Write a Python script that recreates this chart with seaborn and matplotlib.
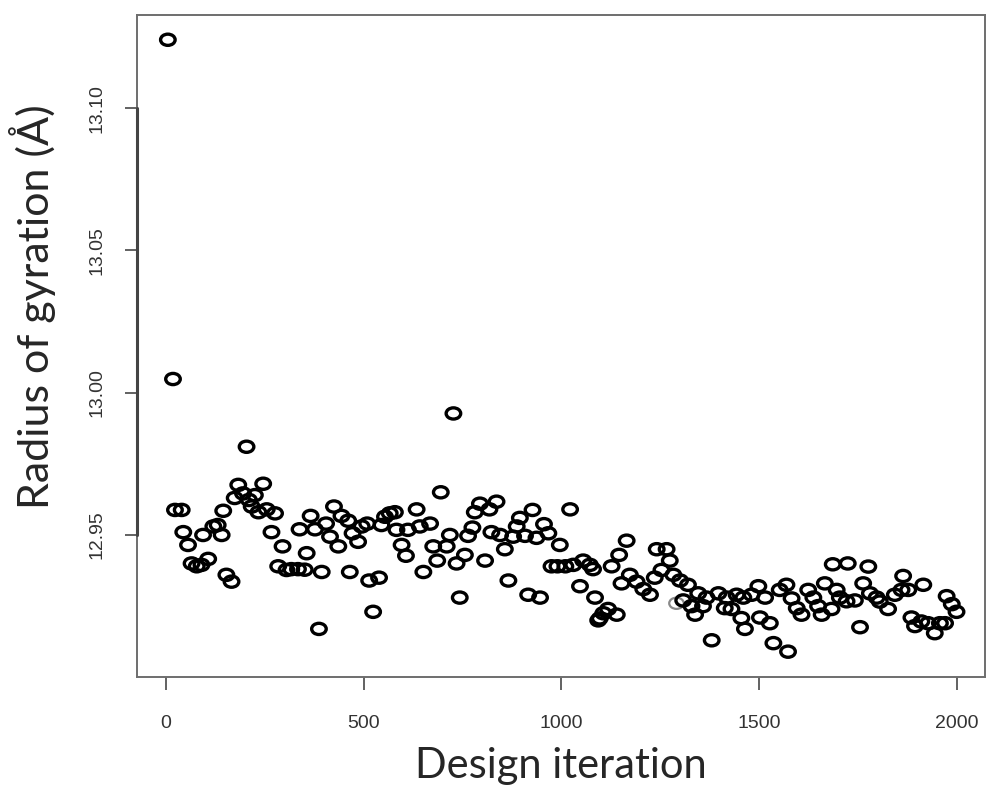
import numpy as np
import pandas as pd
import matplotlib
matplotlib.use("Agg")
import matplotlib.pyplot as plt
import matplotlib.transforms as mtransforms
from matplotlib.path import Path
from matplotlib.lines import Line2D
import seaborn as sns

# ---- data ----
iteration = [5, 18, 23, 40, 44, 56, 65, 78, 90, 94, 107, 120, 131, 141, 145, 153, 166, 174, 183, 195,
             204, 210, 217, 225, 234, 246, 255, 267, 276, 284, 295, 305, 317, 334, 338, 351, 356, 366, 377, 387,
             394, 405, 415, 425, 436, 444, 461, 465, 472, 486, 495, 509, 514, 524, 539, 545, 554, 566, 579, 583,
             596, 607, 612, 634, 642, 651, 668, 676, 686, 695, 710, 718, 727, 735, 743, 756, 764, 775, 781, 794,
             807, 818, 823, 836, 845, 857, 866, 878, 887, 895, 908, 916, 927, 937, 946, 956, 967, 975, 990, 996,
             1010, 1022, 1030, 1047, 1055, 1072, 1080, 1085, 1093, 1097, 1106, 1118, 1127, 1140, 1146, 1152, 1165, 1173, 1190, 1207,
             1224, 1236, 1241, 1253, 1266, 1274, 1283, 1300, 1308, 1320, 1329, 1338, 1346, 1358, 1367, 1380, 1397, 1413, 1418, 1430,
             1443, 1455, 1460, 1464, 1481, 1498, 1502, 1515, 1527, 1536, 1552, 1569, 1573, 1582, 1595, 1607, 1624, 1637, 1649, 1658,
             1666, 1683, 1686, 1696, 1704, 1721, 1724, 1742, 1755, 1763, 1776, 1780, 1797, 1805, 1826, 1843, 1860, 1864, 1877, 1885,
             1894, 1910, 1915, 1927, 1944, 1957, 1970, 1974, 1987, 1999]
radius = [13.124, 13.0048, 12.9588, 12.9588, 12.951, 12.9465, 12.940, 12.939, 12.9395, 12.950, 12.9416, 12.953, 12.9535, 12.950, 12.9585, 12.936, 12.9336, 12.963, 12.9676, 12.9646,
          12.981, 12.9623, 12.960, 12.964, 12.958, 12.968, 12.959, 12.951, 12.9576, 12.939, 12.946, 12.9377, 12.938, 12.938, 12.952, 12.9378, 12.9436, 12.9567, 12.952, 12.917,
          12.937, 12.954, 12.9494, 12.960, 12.946, 12.9567, 12.955, 12.937, 12.9506, 12.9476, 12.953, 12.954, 12.934, 12.923, 12.935, 12.9535, 12.9564, 12.9576, 12.958, 12.9518,
          12.9465, 12.9427, 12.9518, 12.959, 12.953, 12.937, 12.954, 12.946, 12.941, 12.965, 12.946, 12.950, 12.9927, 12.940, 12.928, 12.943, 12.9497, 12.9526, 12.958, 12.961,
          12.941, 12.959, 12.951, 12.9617, 12.950, 12.945, 12.934, 12.9494, 12.953, 12.956, 12.9497, 12.929, 12.9588, 12.949, 12.928, 12.9538, 12.9506, 12.939, 12.939, 12.9465,
          12.939, 12.959, 12.9395, 12.932, 12.941, 12.9395, 12.938, 12.928, 12.920, 12.9207, 12.9225, 12.924, 12.939, 12.922, 12.943, 12.933, 12.948, 12.936, 12.9336, 12.931,
          12.929, 12.935, 12.945, 12.9377, 12.945, 12.941, 12.936, 12.934, 12.927, 12.9325, 12.925, 12.922, 12.9295, 12.925, 12.928, 12.913, 12.9295, 12.9243, 12.928, 12.924,
          12.929, 12.9208, 12.928, 12.917, 12.929, 12.932, 12.921, 12.928, 12.919, 12.912, 12.9307, 12.9325, 12.909, 12.9277, 12.9243, 12.922, 12.9307, 12.928, 12.925, 12.922,
          12.933, 12.924, 12.9397, 12.9307, 12.928, 12.9267, 12.940, 12.927, 12.9176, 12.933, 12.9389, 12.9295, 12.928, 12.9266, 12.924, 12.929, 12.9307, 12.9356, 12.9307, 12.921,
          12.918, 12.9196, 12.9325, 12.919, 12.9155, 12.919, 12.919, 12.9285, 12.9257, 12.923]
gray_iteration = [1291]
gray_radius = [12.926]

x_ticks = [0, 500, 1000, 1500, 2000]
y_ticks = [12.95, 13.00, 13.05, 13.10]
x_label = "Design iteration"
y_label = "Radius of gyration (Å)"

df = pd.DataFrame({"iteration": iteration, "radius": radius})
df_gray = pd.DataFrame({"iteration": gray_iteration, "radius": gray_radius})

sns.set_style("white")
plt.rcParams["font.family"] = ["Liberation Sans", "DejaVu Sans"]

fig = plt.figure(figsize=(9.88, 7.87), dpi=100)
ax = fig.add_axes([137 / 988, 1 - 677 / 787, (985 - 137) / 988, (677 - 15) / 787])

# elliptical open marker (the reference is slightly stretched horizontally)
ell = Path.unit_circle().transformed(mtransforms.Affine2D().scale(1.3, 1.0))

sns.scatterplot(data=df, x="iteration", y="radius", ax=ax, marker=ell, s=110,
                facecolor="none", edgecolor="black", linewidth=2.4, legend=False, zorder=3)
sns.scatterplot(data=df_gray, x="iteration", y="radius", ax=ax, marker=ell, s=110,
                facecolor="none", edgecolor="#8a8a8a", linewidth=1.6, legend=False, zorder=2)

ax.set_xlim(-73, 2071)
ax.set_ylim(12.9001, 13.1327)
ax.set_xticks(x_ticks)
ax.set_xticklabels([str(v) for v in x_ticks])
ax.set_yticks(y_ticks)
ax.set_yticklabels([f"{v:.2f}" for v in y_ticks])

for sp in ax.spines.values():
    sp.set_visible(True)
    sp.set_color("#6e6e6e")
    sp.set_linewidth(1.4)

# R-style axis line on the left spanning first to last tick
trans = mtransforms.blended_transform_factory(ax.transAxes, ax.transData)
ax.add_line(Line2D([0, 0], [y_ticks[0], y_ticks[-1]], transform=trans, color="#444444",
                   linewidth=2.2, clip_on=False, zorder=5))

ax.tick_params(axis="both", direction="out", length=9, width=1.3, color="#555555",
               labelsize=14, labelcolor="#333333", bottom=True, left=True)
ax.tick_params(axis="x", pad=18)
ax.tick_params(axis="y", pad=14, labelrotation=90)
for lab in ax.get_yticklabels():
    lab.set_va("center")

ax.set_xlabel(x_label, fontsize=30, family=["Lato", "DejaVu Sans"])
ax.set_ylabel(y_label, fontsize=31, family=["Lato", "DejaVu Sans"])
ax.xaxis.set_label_coords(0.5, -0.106)
ax.yaxis.set_label_coords(-0.095, 0.56)

fig.savefig("out.png", dpi=100)
